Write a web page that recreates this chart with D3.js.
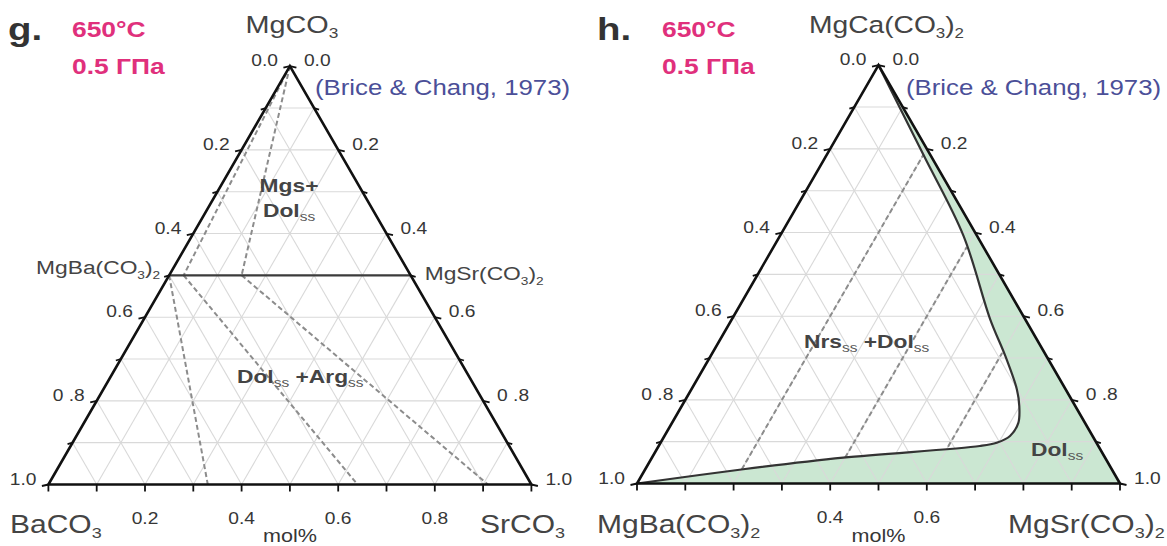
<!DOCTYPE html>
<html>
<head>
<meta charset="utf-8">
<script src="https://cdn.jsdelivr.net/npm/d3@7"></script>
<style>
  body { margin: 0; background: #fff; }
  svg { display: block; }
  text { font-family: "Liberation Sans", Arial, Helvetica, sans-serif; }
</style>
</head>
<body>
<svg id="chart" width="1167" height="546"></svg>
<script>
// ---- data -------------------------------------------------------------
// Ternary points are [t, s]: t = fraction of the top end-member,
// s = fraction of the bottom-right end-member (the rest is bottom-left).

// grid spacing and labelled ticks along every edge
const gridSteps = d3.range(1, 10).map(i => i / 10);
const tickSteps = d3.range(0, 11).map(i => i / 10);
const sideTickValues = [0, 0.2, 0.4, 0.6, 0.8, 1.0];
const sideTickLabels = ["0.0", "0.2", "0.4", "0.6", "0 .8", "1.0"];
const gBottomTickValues = [0.2, 0.4, 0.6, 0.8];
const hBottomTickValues = [0.4, 0.6];

// panel g: BaCO3 – SrCO3 – MgCO3
const gDolomiteJoin = [[0.5, 0.0], [0.5, 0.5]];           // MgBa(CO3)2 – MgSr(CO3)2
const gMgsDolTies = [
  [[1.0, 0.0], [0.5, 0.03]],
  [[1.0, 0.0], [0.5, 0.15]]
];
const gDolArgTies = [
  [[0.5, 0.0],  [0.0, 0.33]],
  [[0.5, 0.03], [0.0, 0.64]],
  [[0.5, 0.15], [0.0, 0.91]]
];

// panel h: MgBa(CO3)2 – MgSr(CO3)2 – MgCa(CO3)2
const hDolBoundary = [
  [1.0, 0.0], [0.787, 0.199], [0.592, 0.380], [0.3925, 0.535], [0.305, 0.610],
  [0.225, 0.674], [0.185, 0.699], [0.145, 0.717], [0.1136, 0.7155], [0.0975, 0.696],
  [0.0896, 0.665], [0.0617, 0.396], [0.034, 0.203], [0.0, 0.0]
];
const hNrsDolTies = [
  [[0.034, 0.2], [0.787, 0.2]],
  [[0.062, 0.4], [0.565, 0.4]],
  [[0.088, 0.6], [0.312, 0.6]]
];

// ---- layout -----------------------------------------------------------
const SIDE = 483;
const HEIGHT = SIDE * Math.sqrt(3) / 2;
const TEXT_SX = 1.2;          // horizontal stretch used by all lettering
const PINK = "#e0307c", BLUE = "#4b4f98", INK = "#363636";

const svg = d3.select("#chart");

function makeProjection(left, bottom) {
  const x = d3.scaleLinear().domain([0, 1]).range([left, left + SIDE]);
  const y = d3.scaleLinear().domain([0, 1]).range([bottom, bottom - HEIGHT]);
  const p = ([t, s]) => [x(s + t / 2), y(t)];
  p.x = x; p.y = y;
  return p;
}

// text with optional subscripts: parts are strings or [string, "sub"]
function label(sel, x, y, parts, o) {
  const size = o.size;
  const t = sel.append("text")
    .attr("transform", `translate(${x},${y}) scale(${TEXT_SX},1)`)
    .attr("font-size", size)
    .attr("fill", o.color || INK)
    .attr("font-weight", o.weight || "normal")
    .attr("text-anchor", o.anchor || "start");
  let shift = 0;
  parts.forEach(part => {
    const [str, kind] = typeof part === "string" ? [part, null] : part;
    const ts = t.append("tspan").text(str);
    const target = kind === "sub" ? size * (o.subShift || 0.25) : 0;
    if (target !== shift) { ts.attr("dy", target - shift); shift = target; }
    if (kind === "sub") {
      ts.attr("font-size", size * (o.subScale || 0.6))
        .attr("font-weight", o.subWeight || "normal")
        .attr("fill", o.subColor || o.color || INK);
    }
  });
  return t;
}

const line = d3.line();

function drawGrid(g, P) {
  const gridLines = [];
  gridSteps.forEach(v => {
    gridLines.push([[v, 0], [v, 1 - v]]);       // constant top fraction
    gridLines.push([[0, v], [1 - v, v]]);       // constant right fraction
    gridLines.push([[0, 1 - v], [1 - v, 0]]);   // constant left fraction
  });
  g.append("g").selectAll("path").data(gridLines).join("path")
    .attr("d", d => line(d.map(P)))
    .attr("stroke", "#d9d9d9").attr("stroke-width", 1.1).attr("fill", "none");
}

function drawAxes(g, P, bottomTicks) {
  const apex = P([1, 0]), bl = P([0, 0]), br = P([0, 1]);
  // ticks
  const ticks = g.append("g").attr("stroke", "#111").attr("stroke-width", 1.8);
  tickSteps.forEach(d => {
    const major = Math.abs(d * 5 - Math.round(d * 5)) < 1e-6;
    const len = major ? 6.5 : 5;
    const L = P([1 - d, 0]), R = P([1 - d, d]), B = P([0, d]);
    ticks.append("line").attr("x1", L[0]).attr("y1", L[1]).attr("x2", L[0] - len).attr("y2", L[1] + 1.5);
    ticks.append("line").attr("x1", R[0]).attr("y1", R[1]).attr("x2", R[0] + len).attr("y2", R[1] + 1.5);
    ticks.append("line").attr("x1", B[0]).attr("y1", B[1]).attr("x2", B[0]).attr("y2", B[1] + 7);
  });
  // triangle
  g.append("path")
    .attr("d", line([apex, bl, br]) + "Z")
    .attr("fill", "none").attr("stroke", "#111").attr("stroke-width", 2.6)
    .attr("stroke-linejoin", "miter");
  // side tick labels
  sideTickValues.forEach((d, i) => {
    const L = P([1 - d, 0]), R = P([1 - d, d]);
    label(g, L[0] - 12, L[1], [sideTickLabels[i]], { size: 16, anchor: "end" });
    label(g, R[0] + 14, R[1], [sideTickLabels[i]], { size: 16, anchor: "start" });
  });
  bottomTicks.forEach(v => {
    const B = P([0, v]);
    label(g, B[0], B[1] + 39, [d3.format(".1f")(v)], { size: 16, anchor: "middle" });
  });
  label(g, apex[0], 542, ["mol%"], { size: 18, anchor: "middle" });
}

const corner = { size: 25, color: "#444", subShift: 0.2 };
const field = { size: 19, weight: "bold", color: "#444", subScale: 0.68, subShift: 0.22, subColor: "#555" };

// ---- panel g ------------------------------------------------------------
{
  const P = makeProjection(48.4, 484.5);
  const g = svg.append("g");
  drawGrid(g, P);

  const dashed = g.append("g").attr("fill", "none").attr("stroke", "#8c8c8c")
    .attr("stroke-width", 2).attr("stroke-dasharray", "5,3");
  dashed.selectAll("path.mgs").data(gMgsDolTies).join("path").attr("class", "mgs")
    .attr("d", d => line(d.map(P)));
  dashed.selectAll("path.arg").data(gDolArgTies).join("path").attr("class", "arg")
    .attr("d", d => line(d.map(P)));

  g.append("path").attr("d", line(gDolomiteJoin.map(P)))
    .attr("stroke", "#3c3c3c").attr("stroke-width", 2.2).attr("fill", "none");

  drawAxes(g, P, gBottomTickValues);

  const apex = P([1, 0]);
  const join0 = P(gDolomiteJoin[0]), join1 = P(gDolomiteJoin[1]);
  label(g, apex[0] + 2, 33, ["MgCO", ["3", "sub"]], { ...corner, size: 24, anchor: "middle" });
  label(g, 10, 533, ["BaCO", ["3", "sub"]], corner);
  label(g, 480, 533, ["SrCO", ["3", "sub"]], corner);
  label(g, join0[0] - 9, join0[1] - 1, ["MgBa(CO", ["3", "sub"], ")", ["2", "sub"]], { size: 19, anchor: "end", color: "#444" });
  label(g, join1[0] + 14, join1[1] + 5, ["MgSr(CO", ["3", "sub"], ")", ["2", "sub"]], { size: 19, color: "#444" });

  label(g, 8, 40, ["g."], { size: 32, weight: "bold", color: "#333" });
  label(g, 72, 37, ["650°C"], { size: 22, weight: "bold", color: PINK });
  label(g, 72, 74, ["0.5 ГПа"], { size: 22, weight: "bold", color: PINK });
  label(g, 315, 95, ["(Brice & Chang, 1973)"], { size: 21.5, color: BLUE });

  label(g, 289, 192, ["Mgs+"], { ...field, anchor: "middle" });
  label(g, 263, 217, ["Dol", ["ss", "sub"]], field);
  label(g, 237, 383, ["Dol", ["ss", "sub"], " +Arg", ["ss", "sub"]], field);
}

// ---- panel h ------------------------------------------------------------
{
  const P = makeProjection(637, 483.5);
  const g = svg.append("g");

  // dolomite solid-solution field
  const area = d3.line().curve(d3.curveCatmullRom.alpha(0.5));
  const bnd = hDolBoundary.map(P);
  const br = P([0, 1]);
  g.append("path")
    .attr("d", area(bnd) + "L" + br[0] + "," + br[1] + "Z")
    .attr("fill", "#cbe7d2").attr("stroke", "none");

  drawGrid(g, P);

  g.append("g").attr("fill", "none").attr("stroke", "#8c8c8c")
    .attr("stroke-width", 2).attr("stroke-dasharray", "5,3")
    .selectAll("path").data(hNrsDolTies).join("path")
    .attr("d", d => line(d.map(P)));

  g.append("path").attr("d", area(bnd))
    .attr("fill", "none").attr("stroke", "#333").attr("stroke-width", 2.2);

  drawAxes(g, P, hBottomTickValues);

  label(g, 809, 33, ["MgCa(CO", ["3", "sub"], ")", ["2", "sub"]], { ...corner, size: 23.5 });
  label(g, 597, 533, ["MgBa(CO", ["3", "sub"], ")", ["2", "sub"]], corner);
  label(g, 1008, 533, ["MgSr(CO", ["3", "sub"], ")", ["2", "sub"]], corner);

  label(g, 597, 40, ["h."], { size: 32, weight: "bold", color: "#333" });
  label(g, 662, 37, ["650°C"], { size: 22, weight: "bold", color: PINK });
  label(g, 662, 74, ["0.5 ГПа"], { size: 22, weight: "bold", color: PINK });
  label(g, 906, 95, ["(Brice & Chang, 1973)"], { size: 21.5, color: BLUE });

  label(g, 804, 348, ["Nrs", ["ss", "sub"], " +Dol", ["ss", "sub"]], field);
  label(g, 1031, 456, ["Dol", ["ss", "sub"]], field);
}
</script>
</body>
</html>
